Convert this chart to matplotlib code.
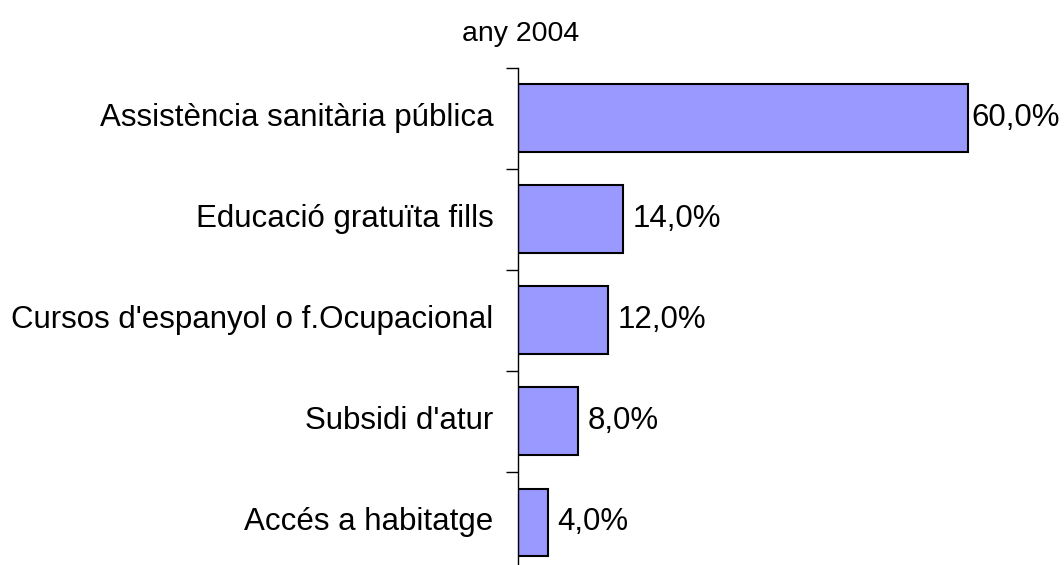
import matplotlib
matplotlib.use("Agg")
import matplotlib.pyplot as plt
from matplotlib.transforms import offset_copy

categories = ["Assistència sanitària pública", "Educació gratuïta fills",
              "Cursos d'espanyol o f.Ocupacional", "Subsidi d'atur", "Accés a habitatge"]
values = [60.0, 14.0, 12.0, 8.0, 4.0]
title = "any 2004"

plt.rcParams['font.family'] = ['Liberation Sans', 'DejaVu Sans']

fig = plt.figure(figsize=(10.64, 5.65), dpi=100)
W, H = 1064, 565
left = 517.5 / W
top_px, bot_px = 67.5, 573
ax = fig.add_axes([left, (H - bot_px) / H, 525.7 / W, (bot_px - top_px) / H])

n = len(categories)
ypos = list(range(n))
ax.barh(ypos, values, height=0.67, color='#9999FF', edgecolor='black', linewidth=1.5)
ax.set_ylim(n - 0.5, -0.5)
ax.set_xlim(0, 70)
ax.set_yticks([i - 0.5 for i in range(n + 1)])
ax.set_yticklabels([])
ax.tick_params(axis='y', length=9, width=1, color='black', direction='out')
for i, c in enumerate(categories):
    ax.text(-3.2, i, c, ha='right', va='center', fontsize=22.5)

fig.canvas.draw()
renderer = fig.canvas.get_renderer()
max_right = W - 4
pad = 10
for i, v in enumerate(values):
    t = ax.text(v, i, f"{v:.1f}%".replace('.', ','), ha='left', va='center', fontsize=22.5,
                clip_on=False,
                transform=offset_copy(ax.transData, fig=fig, x=pad, y=0, units='dots'))
    ext = t.get_window_extent(renderer)
    if ext.x1 > max_right:
        shift = ext.x1 - max_right
        t.set_transform(offset_copy(ax.transData, fig=fig, x=pad - shift, y=0, units='dots'))

ax.set_xticks([])
for s in ['top', 'right', 'bottom']:
    ax.spines[s].set_visible(False)
ax.spines['left'].set_linewidth(1)
fig.text(520.5 / W, 1 - 34 / H, title, ha='center', va='center', fontsize=20.5)
fig.savefig("out.png", dpi=100)
